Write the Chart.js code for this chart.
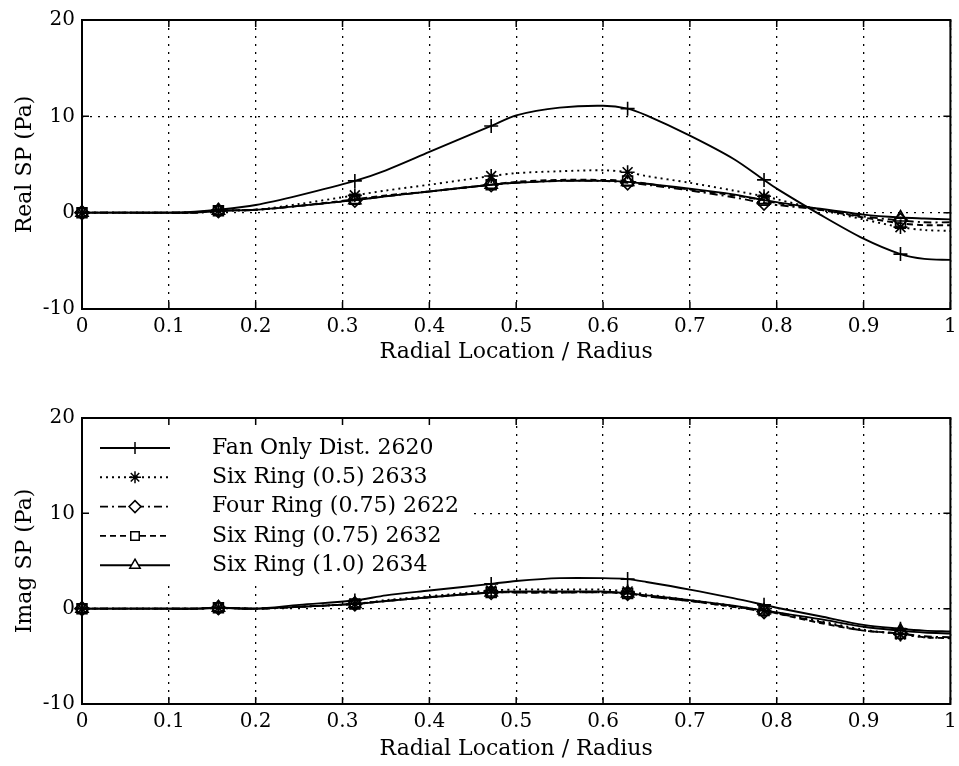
<!DOCTYPE html>
<html>
<head>
<meta charset="utf-8">
<script src="https://cdn.jsdelivr.net/npm/chart.js@4"></script>
<style>
  html, body { margin: 0; padding: 0; background: #fff; }
  #wrap { position: relative; width: 959px; height: 766px; }
  canvas { position: absolute; left: 0; }
</style>
</head>
<body>
<div id="wrap">
  <canvas id="realChart" width="959" height="383" style="top:0"></canvas>
  <canvas id="imagChart" width="959" height="383" style="top:383px"></canvas>
</div>
<script>
var radialX = [0, 0.05, 0.1, 0.13, 0.1571, 0.2, 0.25, 0.3142, 0.35, 0.4, 0.4712, 0.5, 0.55, 0.6, 0.6283, 0.65, 0.7, 0.75, 0.7854, 0.8, 0.85, 0.9, 0.9425, 0.97, 1.0];
var markerX = [0, 0.1571, 0.3142, 0.4712, 0.6283, 0.7854, 0.9425];

var seriesNames = ["Fan Only Dist. 2620", "Six Ring (0.5) 2633", "Four Ring (0.75) 2622", "Six Ring (0.75) 2632", "Six Ring (1.0) 2634"];

// Real SP (Pa)
var realFanOnly     = [0, 0, 0, 0.1, 0.3, 0.8, 1.8, 3.3, 4.4, 6.3, 9.0, 10.1, 10.9, 11.1, 10.8, 10.1, 8.0, 5.6, 3.4, 2.5, -0.2, -2.7, -4.3, -4.8, -4.9];
var realSixRing05   = [0, 0, 0, 0.05, 0.2, 0.3, 0.9, 1.8, 2.3, 2.9, 3.8, 4.1, 4.3, 4.4, 4.2, 3.8, 3.1, 2.3, 1.7, 1.4, 0.3, -0.7, -1.5, -1.8, -1.9];
var realFourRing075 = [0, 0, 0, 0, 0.2, 0.3, 0.7, 1.3, 1.7, 2.2, 2.9, 3.1, 3.3, 3.3, 3.1, 2.9, 2.3, 1.6, 1.0, 0.8, 0.3, -0.4, -0.8, -1.0, -1.0];
var realSixRing075  = [0, 0, 0, 0, 0.2, 0.3, 0.7, 1.4, 1.8, 2.2, 2.9, 3.2, 3.4, 3.4, 3.3, 3.0, 2.4, 1.8, 1.3, 1.0, 0.3, -0.5, -1.1, -1.3, -1.3];
var realSixRing10   = [0, 0, 0, 0, 0.2, 0.3, 0.7, 1.3, 1.7, 2.2, 2.9, 3.1, 3.3, 3.3, 3.2, 3.0, 2.5, 1.9, 1.3, 1.1, 0.4, -0.2, -0.5, -0.6, -0.7];

// Imag SP (Pa)
var imagFanOnly     = [0, 0, 0, 0, 0.1, 0, 0.4, 0.85, 1.4, 1.9, 2.6, 2.9, 3.2, 3.2, 3.1, 2.8, 2.0, 1.1, 0.4, 0.1, -0.8, -1.7, -2.1, -2.3, -2.4];
var imagSixRing05   = [0, 0, 0, 0, 0.1, 0, 0.2, 0.5, 0.9, 1.3, 1.9, 2.0, 2.0, 2.0, 1.8, 1.5, 0.9, 0.3, -0.2, -0.4, -1.3, -2.2, -2.7, -3.0, -3.1];
var imagFourRing075 = [0, 0, 0, 0, 0.1, 0, 0.2, 0.5, 0.8, 1.2, 1.7, 1.7, 1.7, 1.7, 1.6, 1.3, 0.8, 0.2, -0.3, -0.5, -1.4, -2.3, -2.6, -2.9, -3.0];
var imagSixRing075  = [0, 0, 0, 0, 0.1, 0, 0.2, 0.5, 0.8, 1.2, 1.7, 1.7, 1.7, 1.7, 1.6, 1.3, 0.8, 0.2, -0.2, -0.5, -1.5, -2.3, -2.6, -3.0, -3.1];
var imagSixRing10   = [0, 0, 0, 0, 0.1, 0, 0.2, 0.5, 0.8, 1.2, 1.7, 1.8, 1.8, 1.8, 1.6, 1.4, 0.9, 0.3, -0.2, -0.4, -1.1, -1.9, -2.3, -2.5, -2.6];

var xTicks = [0, 0.1, 0.2, 0.3, 0.4, 0.5, 0.6, 0.7, 0.8, 0.9, 1];
var xTickLabels = ["0", "0.1", "0.2", "0.3", "0.4", "0.5", "0.6", "0.7", "0.8", "0.9", "1"];
var yTicks = [-10, 0, 10, 20];
var yTickLabels = ["-10", "0", "10", "20"];

// line look per series
var lineDashes = [[], [2, 4], [8, 4, 2, 4], [6, 4], []];
var pointStyles = ["cross", "star", "rectRot", "rect", "triangle"];

Chart.defaults.font.family = '"DejaVu Serif", serif';
Chart.defaults.color = "#000";

function isMarker(x) {
  return markerX.some(function (m) { return Math.abs(m - x) < 1e-6; });
}

function buildDatasets(seriesList) {
  return seriesList.map(function (values, i) {
    return {
      label: seriesNames[i],
      data: radialX.map(function (x, k) { return { x: x, y: values[k] }; }),
      borderColor: "#000",
      borderWidth: 1.9,
      borderDash: lineDashes[i],
      tension: 0.3,
      fill: false,
      clip: false,
      pointStyle: pointStyles[i],
      pointRadius: function (ctx) { return ctx.raw && isMarker(ctx.raw.x) ? 7 : 0; },
      pointHoverRadius: 0,
      pointBorderWidth: 1.6,
      pointBorderColor: "#000",
      pointBackgroundColor: "rgba(0,0,0,0)"
    };
  });
}

// solid box round the plot with little inward ticks, like the original
var framePlugin = {
  id: "frame",
  afterDraw: function (chart) {
    var ctx = chart.ctx, a = chart.chartArea;
    var xs = chart.scales.x, ys = chart.scales.y;
    ctx.save();
    ctx.strokeStyle = "#000";
    ctx.setLineDash([]);
    ctx.lineWidth = 2;
    ctx.strokeRect(a.left, a.top, a.right - a.left, a.bottom - a.top);
    ctx.lineWidth = 1.5;
    ctx.beginPath();
    xTicks.forEach(function (v) {
      var px = xs.getPixelForValue(v);
      ctx.moveTo(px, a.bottom); ctx.lineTo(px, a.bottom - 7);
      ctx.moveTo(px, a.top); ctx.lineTo(px, a.top + 7);
    });
    yTicks.forEach(function (v) {
      var py = ys.getPixelForValue(v);
      ctx.moveTo(a.left, py); ctx.lineTo(a.left + 7, py);
      ctx.moveTo(a.right, py); ctx.lineTo(a.right - 7, py);
    });
    ctx.stroke();
    ctx.restore();
  }
};

// legend drawn inside the lower plot, line sample + marker + text
var legendPlugin = {
  id: "sketchLegend",
  beforeDatasetsDraw: function (chart, args, opts) {
    if (!opts.show) return;
    var ctx = chart.ctx, a = chart.chartArea;
    ctx.save();
    ctx.fillStyle = "#fff";
    ctx.fillRect(a.left + 1, a.top + 1, opts.boxWidth, opts.boxHeight);
    chart.data.datasets.forEach(function (ds, i) {
      var y = a.top + opts.firstRow + i * opts.rowGap;
      ctx.strokeStyle = "#000";
      ctx.lineWidth = 1.9;
      ctx.setLineDash(ds.borderDash);
      ctx.beginPath();
      ctx.moveTo(a.left + opts.lineStart, y);
      ctx.lineTo(a.left + opts.lineEnd, y);
      ctx.stroke();
      ctx.setLineDash([]);
      ctx.fillStyle = "#fff";
      ctx.lineWidth = 1.5;
      Chart.helpers.drawPoint(ctx, { pointStyle: ds.pointStyle, radius: 6, borderWidth: 1.5, rotation: 0 },
        a.left + (opts.lineStart + opts.lineEnd) / 2, y);
      ctx.fillStyle = "#000";
      ctx.font = '22px "DejaVu Serif", serif';
      ctx.textBaseline = "middle";
      ctx.textAlign = "left";
      ctx.fillText(ds.label, a.left + opts.textStart, y);
    });
    ctx.restore();
  }
};

function makeOptions(yTitle, padTop, xAxisHeight, titlePadBottom, showLegend) {
  return {
    responsive: false,
    animation: false,
    devicePixelRatio: 1,
    layout: { padding: { top: padTop, right: 8, left: 0, bottom: 0 } },
    plugins: {
      legend: { display: false },
      tooltip: { enabled: false },
      sketchLegend: {
        show: showLegend, boxWidth: 386, boxHeight: 166,
        firstRow: 30, rowGap: 29.3, lineStart: 18, lineEnd: 88, textStart: 130
      }
    },
    scales: {
      x: {
        type: "linear",
        min: 0,
        max: 1,
        afterBuildTicks: function (scale) {
          scale.ticks = xTicks.map(function (v) { return { value: v }; });
        },
        afterFit: function (scale) {
          scale.height = xAxisHeight;
          scale.paddingLeft = 0;
          scale.paddingRight = 0;
        },
        ticks: {
          padding: 6,
          maxRotation: 0,
          autoSkip: false,
          font: { size: 20 },
          callback: function (v, i) { return xTickLabels[i]; }
        },
        grid: { color: "#000", lineWidth: 1.3, drawTicks: false },
        border: { display: false, dash: [2, 6] },
        title: {
          display: true,
          text: "Radial Location / Radius",
          font: { size: 22 },
          padding: { top: 0, bottom: titlePadBottom }
        }
      },
      y: {
        min: -10,
        max: 20,
        afterBuildTicks: function (scale) {
          scale.ticks = yTicks.map(function (v) { return { value: v }; });
        },
        afterFit: function (scale) { scale.width = 82; },
        ticks: {
          padding: 7,
          font: { size: 20 },
          callback: function (v, i) { return yTickLabels[i]; }
        },
        grid: { color: "#000", lineWidth: 1.3, drawTicks: false },
        border: { display: false, dash: [2, 6] },
        title: {
          display: true,
          text: yTitle,
          font: { size: 22 },
          padding: { top: 12, bottom: 0 }
        }
      }
    }
  };
}

var realChart = new Chart(document.getElementById("realChart").getContext("2d"), {
  type: "line",
  data: { datasets: buildDatasets([realFanOnly, realSixRing05, realFourRing075, realSixRing075, realSixRing10]) },
  options: makeOptions("Real SP (Pa)", 20, 74, 18, false),
  plugins: [legendPlugin, framePlugin]
});

var imagChart = new Chart(document.getElementById("imagChart").getContext("2d"), {
  type: "line",
  data: { datasets: buildDatasets([imagFanOnly, imagSixRing05, imagFourRing075, imagSixRing075, imagSixRing10]) },
  options: makeOptions("Imag SP (Pa)", 35, 62, 4, true),
  plugins: [legendPlugin, framePlugin]
});
</script>
</body>
</html>
